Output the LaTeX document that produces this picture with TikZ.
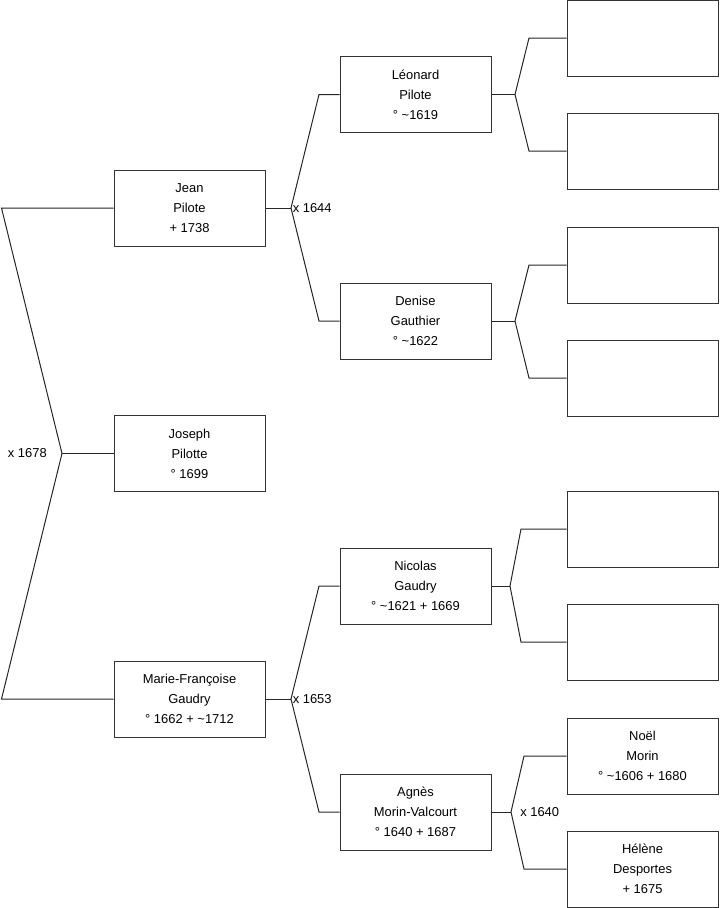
\documentclass[tikz,border=0pt]{standalone}
\usepackage{fontspec}
\setmainfont{Liberation Sans}
\begin{document}
\begin{tikzpicture}[x=0.75pt,y=-0.75pt,
  box/.style={draw=black!80,line width=0.75pt,fill=white,minimum width=113.25pt,minimum height=57pt,inner sep=0pt,align=center,font=\fontsize{9.7}{15}\selectfont},
  conn/.style={draw=black!85,line width=0.75pt},
  lbl/.style={font=\fontsize{9.7}{11}\selectfont,inner sep=0pt}]
\useasboundingbox (0,0) rectangle (719,908);
% generation 1
\node[box] (jean) at (189.5,208) {Jean\\Pilote\\+ 1738};
\node[box] (joseph) at (189.5,453.5) {Joseph\\Pilotte\\° 1699};
\node[box] (marie) at (189.5,699) {Marie-Françoise\\Gaudry\\° 1662 + \textasciitilde1712};
% generation 2
\node[box] (leonard) at (415.5,94.5) {Léonard\\Pilote\\° \textasciitilde1619};
\node[box] (denise) at (415.5,321) {Denise\\Gauthier\\° \textasciitilde1622};
\node[box] (nicolas) at (415.5,586) {Nicolas\\Gaudry\\° \textasciitilde1621 + 1669};
\node[box] (agnes) at (415.5,812) {Agnès\\Morin-Valcourt\\° 1640 + 1687};
% generation 3
\node[box] (r1) at (642.5,38) {};
\node[box] (r2) at (642.5,151) {};
\node[box] (r3) at (642.5,265) {};
\node[box] (r4) at (642.5,378) {};
\node[box] (r5) at (642.5,529) {};
\node[box] (r6) at (642.5,642) {};
\node[box] (noel) at (642.5,756) {Noël\\Morin\\° \textasciitilde1606 + 1680};
\node[box] (helene) at (642.5,869) {Hélène\\Desportes\\+ 1675};
% left bracket
\coordinate (lt) at (1.5,208);
\coordinate (lm) at (62,453.5);
\coordinate (lb) at (1.5,699);
\draw[conn] (jean.west) -- (lt) -- (lm) -- (lb) -- (marie.west);
\draw[conn] (lm) -- (joseph.west);
\node[lbl,anchor=east] (m1678) at (47,453.5) {x 1678};
% Jean bracket
\coordinate (v1) at (291,208);
\coordinate (a1) at (319,94.5);
\coordinate (b1) at (319,321);
\draw[conn] (jean.east) -- (v1);
\draw[conn] (leonard.west) -- (a1) -- (v1) -- (b1) -- (denise.west);
\node[lbl,anchor=west] (m1644) at (292.5,208) {x 1644};
% Marie bracket
\coordinate (v2) at (291,699);
\coordinate (a2) at (319,586);
\coordinate (b2) at (319,812);
\draw[conn] (marie.east) -- (v2);
\draw[conn] (nicolas.west) -- (a2) -- (v2) -- (b2) -- (agnes.west);
\node[lbl,anchor=west] (m1653) at (292.5,699) {x 1653};
% Leonard bracket
\coordinate (v3) at (515,94.5);
\coordinate (a3) at (529,38);
\coordinate (b3) at (529,151);
\draw[conn] (leonard.east) -- (v3);
\draw[conn] (r1.west) -- (a3) -- (v3) -- (b3) -- (r2.west);
% Denise bracket
\coordinate (v4) at (515,321);
\coordinate (a4) at (529,265);
\coordinate (b4) at (529,378);
\draw[conn] (denise.east) -- (v4);
\draw[conn] (r3.west) -- (a4) -- (v4) -- (b4) -- (r4.west);
% Nicolas bracket
\coordinate (v5) at (510,586);
\coordinate (a5) at (521,529);
\coordinate (b5) at (521,642);
\draw[conn] (nicolas.east) -- (v5);
\draw[conn] (r5.west) -- (a5) -- (v5) -- (b5) -- (r6.west);
% Agnes bracket
\coordinate (v6) at (511,812);
\coordinate (a6) at (524,756);
\coordinate (b6) at (524,869);
\draw[conn] (agnes.east) -- (v6);
\draw[conn] (noel.west) -- (a6) -- (v6) -- (b6) -- (helene.west);
\node[lbl,anchor=west] (m1640) at (520,812) {x 1640};
\end{tikzpicture}
\end{document}
